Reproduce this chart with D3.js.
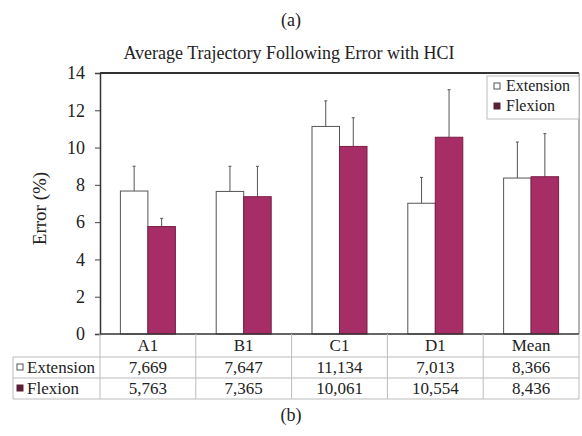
<!DOCTYPE html>
<html lang="en">
<head>
<meta charset="utf-8">
<title>Average Trajectory Following Error with HCI</title>
<script src="https://cdnjs.cloudflare.com/ajax/libs/d3/7.8.5/d3.min.js"></script>
<style>
  body { margin: 0; background: #fff; }
  svg text { font-family: "Liberation Serif", "DejaVu Serif", serif; fill: #222; }
</style>
</head>
<body>
<div id="chart"></div>
<script>
// chart data
var categories = ["A1", "B1", "C1", "D1", "Mean"];
var seriesNames = ["Extension", "Flexion"];
var extension = [7.669, 7.647, 11.134, 7.013, 8.366];
var flexion = [5.763, 7.365, 10.061, 10.554, 8.436];
// upper error bar lengths
var extensionErr = [1.33, 1.35, 1.37, 1.39, 1.93];
var flexionErr = [0.44, 1.63, 1.54, 2.55, 2.31];
// table text as printed (comma decimals)
var extensionLabels = ["7,669", "7,647", "11,134", "7,013", "8,366"];
var flexionLabels = ["5,763", "7,365", "10,061", "10,554", "8,436"];
var yTicks = [0, 2, 4, 6, 8, 10, 12, 14];

var width = 582, height = 436;
var plotLeft = 100, plotRight = 579, plotTop = 73, plotBottom = 334;
var flexColour = "#a62d66";

var svg = d3.select("#chart").append("svg")
    .attr("width", width)
    .attr("height", height);

// Scales
var xScale = d3.scaleBand()
    .domain(categories)
    .range([plotLeft, plotRight]);

var groupWidth = 55;
var xInner = d3.scaleBand()
    .domain(seriesNames)
    .range([0, groupWidth]);

var yScale = d3.scaleLinear()
    .domain([0, 14])
    .range([plotBottom, plotTop]);

// Captions and title
svg.append("text")
    .attr("x", 291).attr("y", 26)
    .attr("text-anchor", "middle")
    .style("font-size", "18px")
    .text("(a)");

svg.append("text")
    .attr("x", 289).attr("y", 59)
    .attr("text-anchor", "middle")
    .style("font-size", "18px")
    .text("Average Trajectory Following Error with HCI");

svg.append("text")
    .attr("x", 291).attr("y", 421)
    .attr("text-anchor", "middle")
    .style("font-size", "18px")
    .text("(b)");

// y axis
var yAxis = d3.axisLeft(yScale)
    .tickValues(yTicks)
    .tickSize(5)
    .tickPadding(10);

var yG = svg.append("g")
    .attr("transform", "translate(" + plotLeft + ",0)")
    .call(yAxis);
yG.select(".domain").attr("stroke", "#333").attr("stroke-width", 1.5);
yG.selectAll(".tick line").attr("stroke", "#444");
yG.selectAll("text")
    .style("font-family", "Liberation Serif, serif")
    .style("font-size", "18px")
    .attr("fill", "#222");

svg.append("text")
    .attr("transform", "translate(46," + ((plotTop + plotBottom) / 2 + 5) + ") rotate(-90)")
    .attr("text-anchor", "middle")
    .style("font-size", "19px")
    .text("Error (%)");

// frame: top and right borders
svg.append("line")
    .attr("x1", plotLeft).attr("x2", plotRight)
    .attr("y1", plotTop).attr("y2", plotTop)
    .attr("stroke", "#333").attr("stroke-width", 2);
svg.append("line")
    .attr("x1", plotRight).attr("x2", plotRight)
    .attr("y1", plotTop).attr("y2", plotBottom)
    .attr("stroke", "#666").attr("stroke-width", 1);

// bars
var rows = categories.map(function(c, i){
    return [
        {cat: c, series: "Extension", value: extension[i], err: extensionErr[i]},
        {cat: c, series: "Flexion", value: flexion[i], err: flexionErr[i]}
    ];
});
var bars = d3.merge(rows);

function barX(d){
    var cx = xScale(d.cat) + xScale.bandwidth() / 2 - groupWidth / 2;
    return cx + xInner(d.series);
}

// error bars (upper only)
svg.selectAll(".err")
    .data(bars)
    .enter()
    .append("line")
        .attr("class", "err")
        .attr("x1", function(d){ return barX(d) + xInner.bandwidth() / 2; })
        .attr("x2", function(d){ return barX(d) + xInner.bandwidth() / 2; })
        .attr("y1", function(d){ return yScale(d.value); })
        .attr("y2", function(d){ return yScale(d.value + d.err); })
        .attr("stroke", "#555")
        .attr("stroke-width", 1);

svg.selectAll(".cap")
    .data(bars)
    .enter()
    .append("line")
        .attr("class", "cap")
        .attr("x1", function(d){ return barX(d) + xInner.bandwidth() / 2 - 1.5; })
        .attr("x2", function(d){ return barX(d) + xInner.bandwidth() / 2 + 1.5; })
        .attr("y1", function(d){ return yScale(d.value + d.err); })
        .attr("y2", function(d){ return yScale(d.value + d.err); })
        .attr("stroke", "#555")
        .attr("stroke-width", 1);

svg.selectAll(".bar")
    .data(bars)
    .enter()
    .append("rect")
        .attr("class", "bar")
        .attr("x", function(d){ return barX(d); })
        .attr("y", function(d){ return yScale(d.value); })
        .attr("width", xInner.bandwidth())
        .attr("height", function(d){ return plotBottom - yScale(d.value); })
        .attr("fill", function(d){ return d.series == "Extension" ? "#fff" : flexColour; })
        .attr("stroke", function(d){ return d.series == "Extension" ? "#555" : "#7a1d45"; })
        .attr("stroke-width", 1);

// bottom axis line
svg.append("line")
    .attr("x1", plotLeft).attr("x2", plotRight)
    .attr("y1", plotBottom).attr("y2", plotBottom)
    .attr("stroke", "#333").attr("stroke-width", 1.5);

// legend
var lg = svg.append("g").attr("transform", "translate(487,76)");
lg.append("rect")
    .attr("width", plotRight - 487).attr("height", 43)
    .attr("fill", "#fff").attr("stroke", "#bbb");
seriesNames.forEach(function(s, i){
    lg.append("rect")
        .attr("x", 7).attr("y", 7 + i * 20)
        .attr("width", 6).attr("height", 6)
        .attr("fill", s == "Extension" ? "#fff" : "#5a2038")
        .attr("stroke", s == "Extension" ? "#555" : "#5a2038");
    lg.append("text")
        .attr("x", 19).attr("y", 15 + i * 20)
        .style("font-size", "16px")
        .text(s);
});

// data table
var rowY = [plotBottom, 357, 378, 399];
var tableLeft = 13;
var gridColour = "#bbb";

// horizontal lines
rowY.slice(1).forEach(function(y){
    svg.append("line")
        .attr("x1", tableLeft).attr("x2", plotRight)
        .attr("y1", y).attr("y2", y)
        .attr("stroke", gridColour);
});

// vertical lines at category boundaries
var bounds = categories.map(function(c){ return xScale(c); }).concat([plotRight]);
svg.selectAll(".vline")
    .data(bounds)
    .enter()
    .append("line")
        .attr("class", "vline")
        .attr("x1", function(d){ return d; })
        .attr("x2", function(d){ return d; })
        .attr("y1", plotBottom)
        .attr("y2", rowY[3])
        .attr("stroke", gridColour);
svg.append("line")
    .attr("x1", tableLeft).attr("x2", tableLeft)
    .attr("y1", rowY[1]).attr("y2", rowY[3])
    .attr("stroke", gridColour);

// header text
svg.selectAll(".head")
    .data(categories)
    .enter()
    .append("text")
        .attr("class", "head")
        .attr("x", function(d){ return xScale(d) + xScale.bandwidth() / 2; })
        .attr("y", 351)
        .attr("text-anchor", "middle")
        .style("font-size", "17px")
        .text(function(d){ return d; });

// row labels with legend keys
var tableRows = [extensionLabels, flexionLabels];
tableRows.forEach(function(labels, r){
    var ty = rowY[r + 1] + 16;
    svg.append("rect")
        .attr("x", 17).attr("y", ty - 9)
        .attr("width", 6).attr("height", 6)
        .attr("fill", r == 0 ? "#fff" : "#5a2038")
        .attr("stroke", r == 0 ? "#555" : "#5a2038");
    svg.append("text")
        .attr("x", 27).attr("y", ty)
        .style("font-size", "17px")
        .text(seriesNames[r]);
    svg.selectAll(".cell" + r)
        .data(labels)
        .enter()
        .append("text")
            .attr("class", "cell" + r)
            .attr("x", function(d, i){ return xScale(categories[i]) + xScale.bandwidth() / 2; })
            .attr("y", ty)
            .attr("text-anchor", "middle")
            .style("font-size", "17px")
            .text(function(d){ return d; });
});
</script>
</body>
</html>
